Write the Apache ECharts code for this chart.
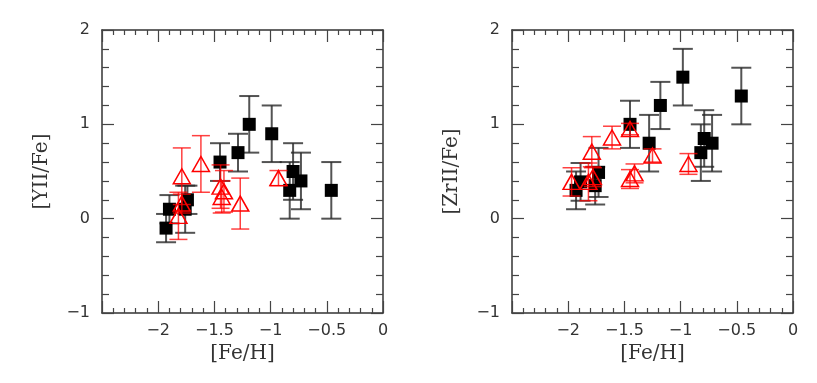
<!DOCTYPE html>
<html>
<head>
<meta charset="utf-8">
<script src="https://cdn.jsdelivr.net/npm/echarts@6/dist/echarts.min.js"></script>
<style>
  html, body { margin: 0; padding: 0; background: #fff; }
  #main { width: 817px; height: 383px; }
</style>
</head>
<body>
<div id="main"></div>
<script>
// [YII/Fe] panel, black squares
let yBlackFe = [-1.93, -1.90, -1.74, -1.76, -1.45, -1.29, -1.19, -0.99, -0.80, -0.83, -0.73, -0.46];
let yBlackVal = [-0.10, 0.10, 0.20, 0.10, 0.60, 0.70, 1.00, 0.90, 0.50, 0.30, 0.40, 0.30];
let yBlackErr = [0.15, 0.15, 0.15, 0.25, 0.20, 0.20, 0.30, 0.30, 0.30, 0.30, 0.30, 0.30];

// [YII/Fe] panel, red triangles
let yRedFe = [-1.79, -1.62, -1.79, -1.82, -1.445, -1.415, -1.435, -1.27, -0.93];
let yRedVal = [0.45, 0.58, 0.16, 0.03, 0.34, 0.29, 0.23, 0.16, 0.43];
let yRedErr = [0.30, 0.30, 0.10, 0.25, 0.23, 0.22, 0.17, 0.27, 0.08];

// [ZrII/Fe] panel, black squares
let zBlackFe = [-1.93, -1.89, -1.73, -1.76, -1.45, -1.28, -1.18, -0.98, -0.82, -0.79, -0.72, -0.46];
let zBlackVal = [0.30, 0.39, 0.49, 0.35, 1.00, 0.80, 1.20, 1.50, 0.70, 0.85, 0.80, 1.30];
let zBlackErr = [0.20, 0.20, 0.26, 0.20, 0.25, 0.30, 0.25, 0.30, 0.30, 0.30, 0.30, 0.30];

// [ZrII/Fe] panel, red triangles
let zRedFe = [-1.97, -1.79, -1.82, -1.78, -1.61, -1.45, -1.45, -1.41, -1.25, -0.93];
let zRedVal = [0.39, 0.71, 0.39, 0.44, 0.86, 0.95, 0.42, 0.48, 0.67, 0.58];
let zRedErr = [0.15, 0.16, 0.20, 0.10, 0.12, 0.06, 0.10, 0.10, 0.07, 0.11];

let xTicks = [-2, -1.5, -1, -0.5, 0];
let yTicks = [-1, 0, 1, 2];
let panelNames = ['[YII/Fe]', '[ZrII/Fe]'];

function pack(xs, ys, es) {
      let out = [];
      for (let i = 0; i < xs.length; i++) {
            out.push([xs[i], ys[i], es[i]]);
      }
      return out;
}

function minus(v) {
      return String(v).replace('-', '\u2212');
}

function errorBars(color, width, half) {
      return function (params, api) {
            let x = api.value(0);
            let y = api.value(1);
            let e = api.value(2);
            let hi = api.coord([x, y + e]);
            let lo = api.coord([x, y - e]);
            let st = { stroke: color, lineWidth: width };
            return {
                  type: 'group',
                  children: [
                        { type: 'line', shape: { x1: hi[0], y1: hi[1], x2: lo[0], y2: lo[1] }, style: st },
                        { type: 'line', shape: { x1: hi[0] - half, y1: hi[1], x2: hi[0] + half, y2: hi[1] }, style: st },
                        { type: 'line', shape: { x1: lo[0] - half, y1: lo[1], x2: lo[0] + half, y2: lo[1] }, style: st }
                  ]
            };
      };
}

let frame = { show: true, onZero: false, lineStyle: { color: '#333', width: 1.5 } };
let tickStyle = { color: '#444', width: 1.2 };

let grids = [];
let xAxes = [];
let yAxes = [];
let series = [];

let lefts = [102, 512];
let sets = [
      [yBlackFe, yBlackVal, yBlackErr, yRedFe, yRedVal, yRedErr],
      [zBlackFe, zBlackVal, zBlackErr, zRedFe, zRedVal, zRedErr]
];

for (let p = 0; p < 2; p++) {
      grids.push({ left: lefts[p], top: 30, width: 281, height: 283 });

      // bottom + top x axes (top is the mirrored frame)
      for (let k = 0; k < 2; k++) {
            xAxes.push({
                  type: 'value', gridIndex: p, position: k == 0 ? 'bottom' : 'top',
                  min: -2.5, max: 0, interval: 0.5,
                  name: k == 0 ? '[Fe/H]' : '', nameLocation: 'middle', nameGap: 29,
                  nameTextStyle: { fontFamily: 'DejaVu Serif', fontSize: 20, color: '#333' },
                  axisLine: frame,
                  axisTick: { show: true, inside: true, length: 12, lineStyle: tickStyle },
                  minorTick: { show: true, splitNumber: 5, length: 5, lineStyle: tickStyle },
                  splitLine: { show: false },
                  axisLabel: {
                        show: k == 0, margin: 10, fontFamily: 'DejaVu Sans', fontSize: 16, color: '#333',
                        formatter: function (v) {
                              return xTicks.indexOf(v) >= 0 ? minus(v) : '';
                        }
                  }
            });
      }

      // left + right y axes
      for (let k = 0; k < 2; k++) {
            yAxes.push({
                  type: 'value', gridIndex: p, position: k == 0 ? 'left' : 'right',
                  min: -1, max: 2, interval: 1,
                  name: k == 0 ? panelNames[p] : '', nameLocation: 'middle', nameGap: 50,
                  nameRotate: 90,
                  nameTextStyle: { fontFamily: 'DejaVu Serif', fontSize: 20, color: '#333' },
                  axisLine: frame,
                  axisTick: { show: true, inside: true, length: 12, lineStyle: tickStyle },
                  minorTick: { show: true, splitNumber: 5, length: 7, lineStyle: tickStyle },
                  splitLine: { show: false },
                  axisLabel: {
                        show: k == 0, margin: 12, fontFamily: 'DejaVu Sans', fontSize: 16, color: '#333',
                        formatter: function (v) {
                              return yTicks.indexOf(v) >= 0 ? minus(v) : '';
                        }
                  }
            });
      }

      let d = sets[p];
      let xi = p * 2;
      let yi = p * 2;

      series.push({
            type: 'custom', xAxisIndex: xi, yAxisIndex: yi,
            renderItem: errorBars('rgba(40,40,40,0.8)', 2, 10),
            data: pack(d[0], d[1], d[2]), z: 2
      });
      series.push({
            type: 'scatter', xAxisIndex: xi, yAxisIndex: yi,
            symbol: 'rect', symbolSize: 13,
            itemStyle: { color: '#000', opacity: 1 },
            data: pack(d[0], d[1], d[2]), z: 3
      });
      series.push({
            type: 'custom', xAxisIndex: xi, yAxisIndex: yi,
            renderItem: errorBars('rgba(255,0,0,0.75)', 1.5, 9),
            data: pack(d[3], d[4], d[5]), z: 4
      });
      series.push({
            type: 'scatter', xAxisIndex: xi, yAxisIndex: yi,
            symbol: 'triangle', symbolSize: [17, 15],
            itemStyle: { color: 'rgba(255,255,255,0)', borderColor: '#ff0000', borderWidth: 1.5, opacity: 1 },
            data: pack(d[3], d[4], d[5]), z: 5
      });
}

let chart = echarts.init(document.getElementById('main'));
chart.setOption({
      animation: false,
      backgroundColor: '#fff',
      grid: grids,
      xAxis: xAxes,
      yAxis: yAxes,
      series: series
});
</script>
</body>
</html>
